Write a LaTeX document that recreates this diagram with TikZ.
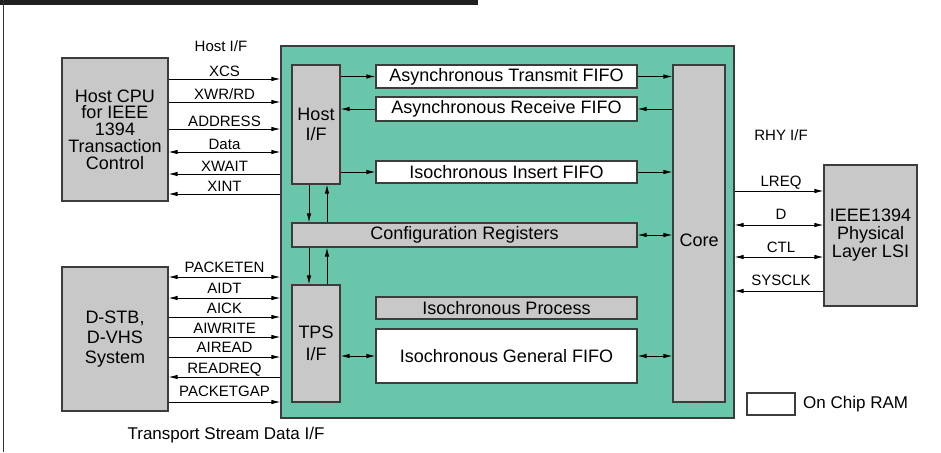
\documentclass[tikz,border=0pt]{standalone}
\usepackage{fontspec}
\setmainfont{Liberation Sans}
\usetikzlibrary{arrows.meta}
\definecolor{chipgreen}{RGB}{106,198,171}
\definecolor{boxgray}{RGB}{200,200,200}
\definecolor{edgegray}{RGB}{60,60,60}
\tikzset{
  blk/.style={draw=edgegray, line width=1.1pt, inner sep=0pt, align=center,
    font=\fontsize{18}{18}\selectfont},
  graybox/.style={blk, fill=boxgray},
  ram/.style={blk, fill=white},
  arr/.style={line width=0.9pt, -{Latex[length=9pt,width=4.5pt]}},
  darr/.style={line width=0.9pt, {Latex[length=9pt,width=4.5pt]}-{Latex[length=9pt,width=4.5pt]}},
  lbl/.style={font=\fontsize{15}{15}\selectfont, inner sep=0pt, text depth=0pt, anchor=base},
  big/.style={font=\fontsize{17}{17}\selectfont, inner sep=0pt}
}
\begin{document}
\begin{tikzpicture}[x=1pt,y=-1pt]
\useasboundingbox (0,0) rectangle (941,452);
% frame decoration
\fill[black!88] (0,0) rectangle (478,5);
\draw[line width=1.5pt, black!80] (3.5,0) -- (3.5,452);

% external boxes
\node[graybox, minimum width=106pt, minimum height=143pt, font=\fontsize{18}{16.8}\selectfont] (hostcpu) at (115,129.5) {Host CPU\\for IEEE\\1394\\Transaction\\Control};
\node[graybox, minimum width=106pt, minimum height=144pt, font=\fontsize{18}{20}\selectfont] (dstb) at (115,339) {D-STB,\\D-VHS\\System};
\node[graybox, minimum width=93pt, minimum height=141pt, font=\fontsize{18}{18}\selectfont] (phy) at (870.5,235.5) {IEEE1394\\Physical\\Layer LSI};

% chip
\node[draw=edgegray, line width=1.1pt, fill=chipgreen, minimum width=453pt, minimum height=372pt, inner sep=0pt] (chip) at (507.5,232) {};

\node[graybox, minimum width=48pt, minimum height=119pt, font=\fontsize{18}{20}\selectfont] (hostif) at (316,124.5) {Host\\I/F};
\node[ram, minimum width=261pt, minimum height=23pt] (atf) at (506.5,76.5) {Asynchronous Transmit FIFO};
\node[ram, minimum width=261pt, minimum height=24pt] (arf) at (506.5,109) {Asynchronous Receive FIFO};
\node[ram, minimum width=261pt, minimum height=22pt] (iif) at (506.5,172) {Isochronous Insert FIFO};
\node[graybox, minimum width=52pt, minimum height=337pt] (core) at (699,233.5) {\raisebox{-13pt}[0pt][0pt]{Core}};
\node[graybox, minimum width=345pt, minimum height=24pt] (config) at (464.5,235) {Configuration Registers};
\node[graybox, minimum width=48pt, minimum height=117pt, font=\fontsize{18}{22}\selectfont] (tps) at (316,343.5) {TPS\\I/F};
\node[graybox, minimum width=261pt, minimum height=22pt] (iproc) at (506.5,308) {Isochronous Process};
\node[ram, minimum width=261pt, minimum height=54pt] (igf) at (506.5,356) {Isochronous General FIFO};

% legend
\node[ram, minimum width=48pt, minimum height=22pt] (legend) at (771,404) {};
\node[big, anchor=west] (legendtxt) at (803,404) {On Chip RAM};

% interface titles
\node[lbl] (hostiftitle) at (221,52) {Host I/F};
\node[lbl] (rhytitle) at (781,140) {RHY I/F};
\node[big, anchor=base] (tstitle) at (226,439) {Transport Stream Data I/F};

% internal connectors
\draw[arr] (hostif.east |- atf.west) -- (atf.west);
\draw[arr] (atf.east) -- (core.west |- atf.east);
\draw[arr] (core.west |- arf.east) -- (arf.east);
\draw[arr] (arf.west) -- (hostif.east |- arf.west);
\draw[arr] (hostif.east |- iif.west) -- (iif.west);
\draw[arr] (iif.east) -- (core.west |- iif.east);
\draw[darr] (config.east) -- (core.west |- config.east);
\draw[darr] (tps.east |- igf.west) -- (igf.west);
\draw[darr] (igf.east) -- (core.west |- igf.east);
\draw[arr] (hostif.south -| 309,0) -- (config.north -| 309,0);
\draw[arr] (config.north -| 327,0) -- (hostif.south -| 327,0);
\draw[arr] (config.south -| 309,0) -- (tps.north -| 309,0);
\draw[arr] (tps.north -| 327,0) -- (config.south -| 327,0);

% host CPU signals
\foreach \y/\t/\s in {79/XCS/arr, 102/XWR\slash RD/arr, 129/ADDRESS/arr}{
  \draw[\s] (hostcpu.east |- 0,\y) -- (chip.west |- 0,\y);
  \node[lbl] at (224.5,\y-2.5) {\t};
}
\draw[darr] (hostcpu.east |- 0,152) -- (chip.west |- 0,152);
\node[lbl] at (224.5,149.5) {Data};
\draw[arr] (chip.west |- 0,174) -- (hostcpu.east |- 0,174);
\node[lbl] at (224.5,171.5) {XWAIT};
\draw[arr] (chip.west |- 0,194) -- (hostcpu.east |- 0,194);
\node[lbl] at (224.5,191.5) {XINT};

% D-STB signals
\draw[darr] (dstb.east |- 0,277) -- (chip.west |- 0,277);
\node[lbl] at (224.5,272) {PACKETEN};
\draw[darr] (dstb.east |- 0,298) -- (chip.west |- 0,298);
\node[lbl] at (224.5,293.5) {AIDT};
\draw[arr] (dstb.east |- 0,317) -- (chip.west |- 0,317);
\node[lbl] at (224.5,313) {AICK};
\draw[arr] (dstb.east |- 0,337) -- (chip.west |- 0,337);
\node[lbl] at (224.5,333) {AIWRITE};
\draw[arr] (dstb.east |- 0,357) -- (chip.west |- 0,357);
\node[lbl] at (224.5,352.5) {AIREAD};
\draw[arr] (chip.west |- 0,377) -- (dstb.east |- 0,377);
\node[lbl] at (224.5,373.5) {READREQ};
\draw[arr] (dstb.east |- 0,402) -- (chip.west |- 0,402);
\node[lbl] at (224.5,396.5) {PACKETGAP};

% PHY signals
\draw[arr] (chip.east |- 0,191) -- (phy.west |- 0,191);
\node[lbl] at (781,186) {LREQ};
\draw[darr] (chip.east |- 0,225) -- (phy.west |- 0,225);
\node[lbl] at (781,219.5) {D};
\draw[darr] (chip.east |- 0,257) -- (phy.west |- 0,257);
\node[lbl] at (781,252.5) {CTL};
\draw[arr] (phy.west |- 0,291) -- (chip.east |- 0,291);
\node[lbl] at (781,285.5) {SYSCLK};
\end{tikzpicture}
\end{document}
